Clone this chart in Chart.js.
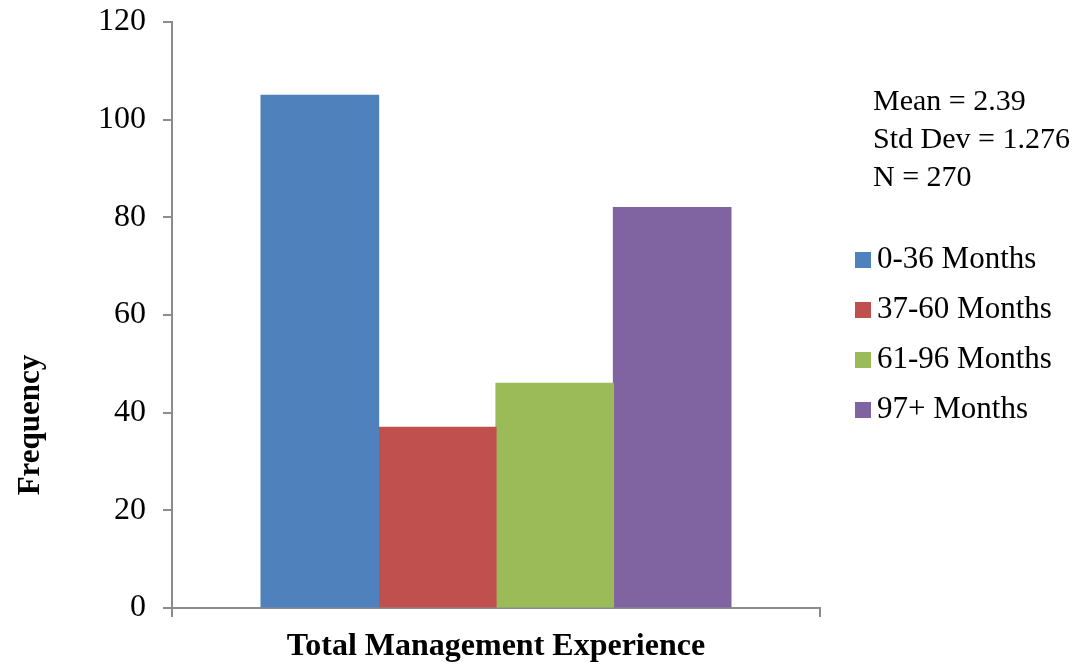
<!DOCTYPE html>
<html>
<head>
<meta charset="utf-8">
<script src="https://cdn.jsdelivr.net/npm/chart.js@4"></script>
<style>
  html, body { margin: 0; padding: 0; background: #fff; }
  #wrap { width: 1088px; height: 666px; position: relative; }
</style>
</head>
<body>
<div id="wrap"><canvas id="expChart"></canvas></div>
<script>
// Histogram data
const category = ['Total Management Experience'];
const groups = ['0-36 Months', '37-60 Months', '61-96 Months', '97+ Months'];
const frequency = [105, 37, 46, 82];
const groupColors = ['#4F81BD', '#C0504D', '#9BBB59', '#8064A2'];
const statLines = ['Mean = 2.39', 'Std Dev = 1.276', 'N = 270'];
const yTicks = [0, 20, 40, 60, 80, 100, 120];

const FONT = "'Liberation Serif', 'Times New Roman', serif";
const AXIS = '#8c8c8c';

// Stats box, legend and rotated y title drawn beside the plot
const sidePanel = {
    id: 'sidePanel',
    afterDraw(chart) {
        const ctx = chart.ctx;
        ctx.save();
        ctx.fillStyle = '#000';
        ctx.textBaseline = 'middle';
        ctx.textAlign = 'left';
        ctx.font = '30px ' + FONT;
        statLines.forEach(function(line, i) {
            ctx.fillText(line, 873, 102 + i * 38);
        });

        ctx.font = '31px ' + FONT;
        chart.data.datasets.forEach(function(ds, i) {
            const y = 260 + i * 50;
            ctx.fillStyle = ds.backgroundColor;
            ctx.fillRect(855, y - 8, 16, 16);
            ctx.fillStyle = '#000';
            ctx.fillText(ds.label, 877, y);
        });

        ctx.translate(31, 425);
        ctx.rotate(-Math.PI / 2);
        ctx.textAlign = 'center';
        ctx.font = 'bold 31px ' + FONT;
        ctx.fillText('Frequency', 0, 0);
        ctx.restore();
    }
};

const ctx = document.getElementById('expChart');
new Chart(ctx, {
    type: 'bar',
    data: {
        labels: category,
        datasets: groups.map(function(g, i) {
            return {
                label: g,
                data: [frequency[i]],
                backgroundColor: groupColors[i],
                borderWidth: 0,
                inflateAmount: 0.6
            };
        })
    },
    options: {
        responsive: true,
        maintainAspectRatio: false,
        animation: false,
        events: [],
        layout: { padding: { top: 22, right: 268, bottom: 0, left: 0 } },
        datasets: {
            bar: { barPercentage: 1, categoryPercentage: 0.725 }
        },
        plugins: {
            legend: { display: false },
            tooltip: { enabled: false }
        },
        scales: {
            x: {
                grid: {
                    display: true,
                    drawOnChartArea: false,
                    drawTicks: true,
                    tickLength: 9,
                    color: AXIS,
                    lineWidth: 2
                },
                border: { color: AXIS, width: 2 },
                ticks: { display: false },
                title: {
                    display: true,
                    text: category[0],
                    color: '#000',
                    font: { family: FONT, size: 32, weight: 'bold' },
                    padding: { top: 0, bottom: 0 }
                },
                afterFit: function(scale) { scale.height = 58; }
            },
            y: {
                min: 0,
                max: 120,
                afterBuildTicks: function(scale) {
                    scale.ticks = yTicks.map(function(v) { return { value: v }; });
                },
                grid: {
                    drawOnChartArea: false,
                    drawTicks: true,
                    tickLength: 9,
                    color: AXIS,
                    lineWidth: 2
                },
                border: { color: AXIS, width: 2 },
                ticks: {
                    color: '#000',
                    padding: 17,
                    font: { family: FONT, size: 32 }
                },
                afterFit: function(scale) {
                    scale.width = 172;
                    scale.paddingTop = 0;
                    scale.paddingBottom = 0;
                }
            }
        }
    },
    plugins: [sidePanel]
});
</script>
</body>
</html>
